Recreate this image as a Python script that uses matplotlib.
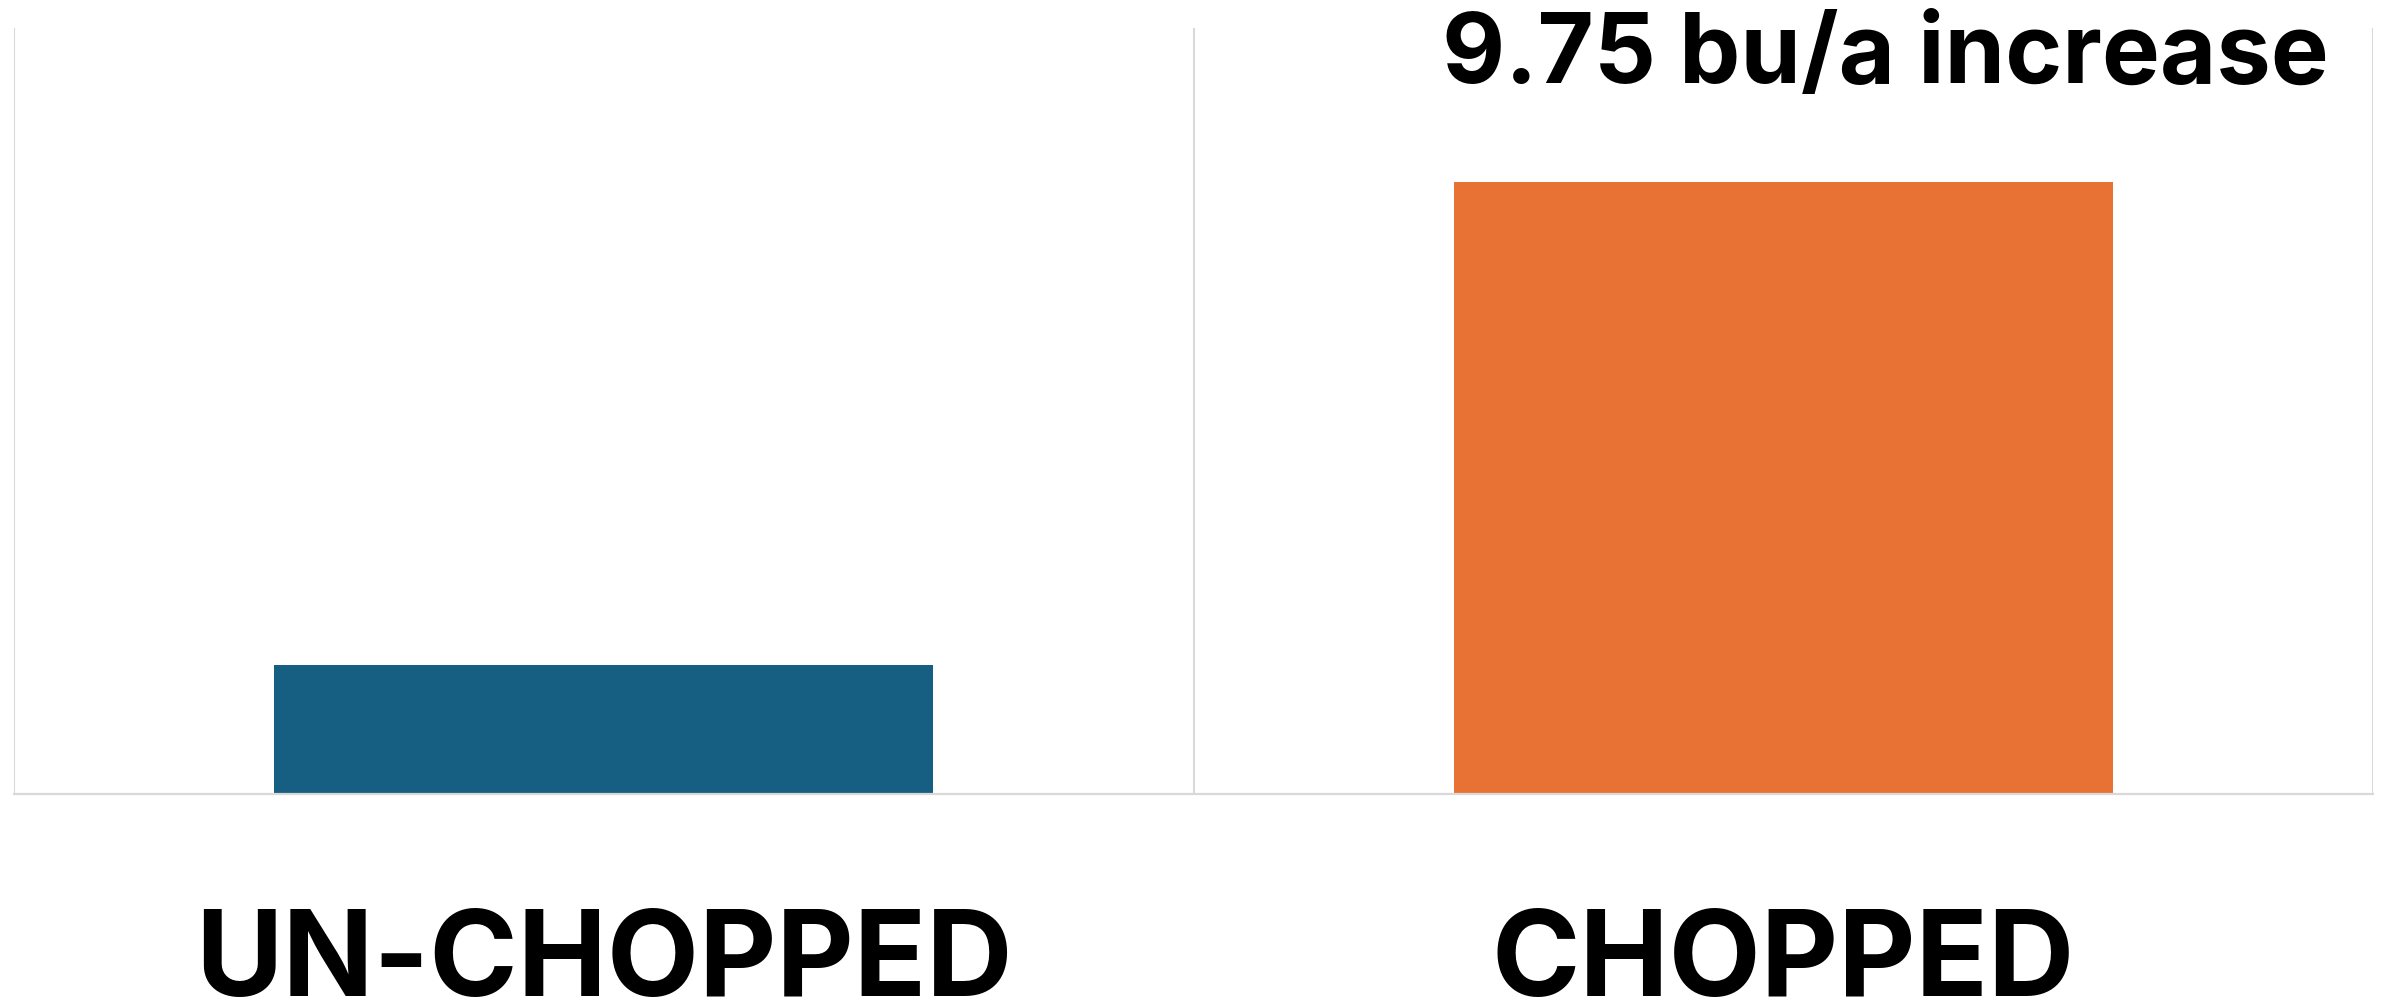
import matplotlib
matplotlib.use('Agg')
import matplotlib.pyplot as plt

# data (bu/a)
categories = ['UN-CHOPPED', 'CHOPPED']
yields = [212.55, 222.30]
bar_colors = ['#165f82', '#e87233']
note = '9.75 bu/a increase'

plt.rcParams['font.family'] = ['Inter', 'DejaVu Sans']

fig = plt.figure(figsize=(23.87, 10.03), dpi=100)
ax = fig.add_axes([14/2387, 208/1003, 2359/2387, 766/1003])

x = list(range(len(categories)))
ax.bar(x, yields, width=0.559, color=bar_colors, zorder=2)

ax.set_xlim(-0.5, len(categories) - 0.5)
ax.set_ylim(209.95, 225.4)

# vertical separators between the categories
for edge in [i - 0.5 for i in range(len(categories) + 1)]:
    ax.axvline(edge, color='#d9d9d9', lw=1.5, zorder=1)

for side in ['top', 'left', 'right']:
    ax.spines[side].set_visible(False)
ax.spines['bottom'].set_color('#d9d9d9')
ax.spines['bottom'].set_linewidth(1.6)
ax.spines['bottom'].set_zorder(3)

ax.set_yticks([])
ax.set_xticks(x)
ax.set_xticklabels(categories, fontsize=86, fontweight='bold', va='baseline')
ax.tick_params(axis='x', length=0, pad=145)

ax.text(0.9813, 0.93, note, transform=ax.transAxes, ha='right', va='baseline',
        fontsize=70, fontweight='bold', clip_on=False)

fig.savefig('out.png', dpi=100)
